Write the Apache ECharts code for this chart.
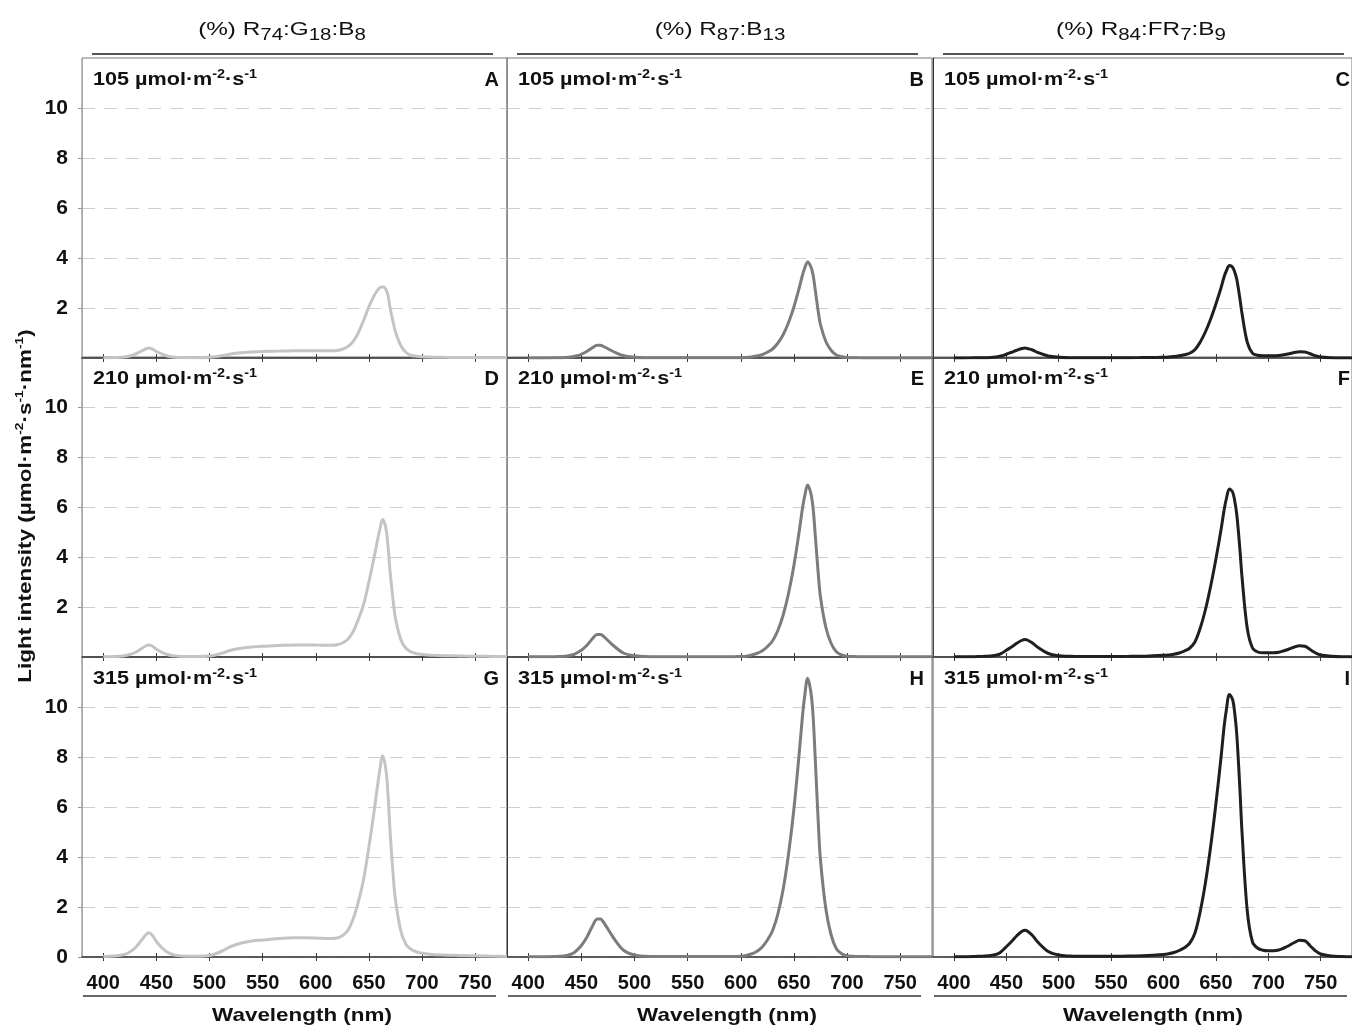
<!DOCTYPE html>
<html>
<head>
<meta charset="utf-8">
<script src="https://cdn.jsdelivr.net/npm/echarts@6/dist/echarts.min.js"></script>
<style>
html, body { margin: 0; padding: 0; background: #fff; }
#main { width: 1352px; height: 1028px; }
</style>
</head>
<body>
<div id="main"></div>
<script>
// wavelength grid (nm) shared by all nine spectra
var wavelength = [
    400, 410, 420, 425, 430, 435, 440, 443, 446, 450,
    455, 460, 465, 468, 470, 475, 480, 490, 500, 510,
    520, 530, 540, 550, 560, 570, 580, 590, 600, 605,
    610, 615, 620, 625, 630, 635, 640, 645, 650, 655,
    658, 660, 663, 666, 668, 670, 673, 675, 680, 685,
    690, 695, 700, 705, 710, 715, 720, 725, 730, 735,
    740, 745, 750, 760, 770, 780
];

// R74:G18:B8
var a105 = [
    0.01, 0.02, 0.04, 0.08, 0.15, 0.26, 0.36, 0.40, 0.36, 0.26,
    0.16, 0.08, 0.04, 0.03, 0.02, 0.02, 0.01, 0.01, 0.03, 0.08,
    0.16, 0.21, 0.24, 0.26, 0.27, 0.28, 0.29, 0.29, 0.29, 0.29,
    0.29, 0.29, 0.30, 0.35, 0.45, 0.65, 1.00, 1.50, 2.05, 2.50,
    2.70, 2.80, 2.85, 2.75, 2.50, 2.00, 1.40, 1.05, 0.50, 0.22,
    0.10, 0.07, 0.05, 0.04, 0.03, 0.03, 0.03, 0.02, 0.02, 0.02,
    0.02, 0.02, 0.02, 0.01, 0.01, 0.01
];
var a210 = [
    0.01, 0.02, 0.05, 0.10, 0.18, 0.31, 0.44, 0.48, 0.44, 0.31,
    0.19, 0.10, 0.05, 0.04, 0.03, 0.02, 0.02, 0.02, 0.04, 0.13,
    0.27, 0.35, 0.40, 0.43, 0.45, 0.47, 0.48, 0.48, 0.48, 0.47,
    0.47, 0.47, 0.49, 0.56, 0.70, 1.00, 1.50, 2.10, 3.00, 4.00,
    4.65, 5.05, 5.50, 5.15, 4.45, 3.40, 2.20, 1.55, 0.70, 0.34,
    0.20, 0.13, 0.10, 0.08, 0.07, 0.06, 0.05, 0.05, 0.05, 0.04,
    0.04, 0.03, 0.03, 0.03, 0.02, 0.01
];
var a315 = [
    0.02, 0.04, 0.10, 0.20, 0.36, 0.62, 0.88, 0.97, 0.88, 0.62,
    0.38, 0.20, 0.10, 0.07, 0.06, 0.04, 0.03, 0.03, 0.06, 0.20,
    0.42, 0.56, 0.64, 0.68, 0.72, 0.75, 0.77, 0.77, 0.76, 0.75,
    0.74, 0.74, 0.76, 0.85, 1.05, 1.50, 2.20, 3.10, 4.40, 5.85,
    6.80, 7.40, 8.05, 7.50, 6.50, 5.00, 3.20, 2.30, 1.05, 0.50,
    0.30, 0.20, 0.15, 0.12, 0.10, 0.09, 0.08, 0.07, 0.07, 0.06,
    0.06, 0.05, 0.05, 0.04, 0.03, 0.02
];

// R87:B13
var b105 = [
    0.00, 0.00, 0.00, 0.01, 0.01, 0.02, 0.04, 0.06, 0.09, 0.15,
    0.26, 0.40, 0.51, 0.51, 0.48, 0.37, 0.26, 0.09, 0.03, 0.01,
    0.01, 0.01, 0.01, 0.01, 0.01, 0.01, 0.01, 0.01, 0.01, 0.02,
    0.04, 0.08, 0.13, 0.23, 0.36, 0.60, 0.94, 1.42, 2.04, 2.80,
    3.30, 3.57, 3.84, 3.65, 3.34, 2.76, 1.84, 1.34, 0.67, 0.31,
    0.12, 0.05, 0.02, 0.01, 0.01, 0.00, 0.00, 0.00, 0.00, 0.00,
    0.00, 0.00, 0.00, 0.00, 0.00, 0.00
];
var b210 = [
    0.01, 0.01, 0.01, 0.01, 0.02, 0.03, 0.07, 0.10, 0.17, 0.27,
    0.46, 0.71, 0.90, 0.90, 0.86, 0.66, 0.46, 0.15, 0.05, 0.02,
    0.01, 0.01, 0.01, 0.01, 0.01, 0.01, 0.01, 0.01, 0.02, 0.03,
    0.08, 0.14, 0.24, 0.41, 0.65, 1.07, 1.69, 2.55, 3.65, 5.02,
    5.92, 6.40, 6.88, 6.54, 5.99, 4.95, 3.30, 2.41, 1.20, 0.55,
    0.21, 0.08, 0.03, 0.02, 0.01, 0.01, 0.01, 0.01, 0.01, 0.01,
    0.01, 0.01, 0.01, 0.01, 0.01, 0.01
];
var b315 = [
    0.01, 0.01, 0.01, 0.02, 0.03, 0.05, 0.11, 0.17, 0.28, 0.46,
    0.78, 1.20, 1.52, 1.52, 1.44, 1.12, 0.78, 0.26, 0.08, 0.03,
    0.02, 0.02, 0.02, 0.02, 0.02, 0.02, 0.02, 0.02, 0.03, 0.06,
    0.12, 0.22, 0.39, 0.67, 1.06, 1.73, 2.73, 4.13, 5.91, 8.14,
    9.59, 10.37, 11.15, 10.59, 9.70, 8.03, 5.35, 3.90, 1.95, 0.89,
    0.33, 0.13, 0.05, 0.03, 0.02, 0.02, 0.02, 0.01, 0.01, 0.01,
    0.01, 0.01, 0.01, 0.01, 0.01, 0.01
];

// R84:FR7:B9
var c105 = [
    0.00, 0.00, 0.01, 0.01, 0.01, 0.02, 0.04, 0.06, 0.09, 0.15,
    0.23, 0.31, 0.38, 0.40, 0.38, 0.32, 0.22, 0.08, 0.03, 0.01,
    0.01, 0.01, 0.01, 0.01, 0.01, 0.01, 0.02, 0.02, 0.03, 0.04,
    0.06, 0.09, 0.13, 0.19, 0.33, 0.63, 1.04, 1.55, 2.15, 2.81,
    3.26, 3.48, 3.70, 3.63, 3.44, 3.15, 2.37, 1.78, 0.63, 0.19,
    0.11, 0.09, 0.09, 0.09, 0.10, 0.13, 0.17, 0.22, 0.25, 0.24,
    0.17, 0.09, 0.04, 0.01, 0.00, 0.00
];
var c210 = [
    0.01, 0.01, 0.01, 0.02, 0.03, 0.04, 0.07, 0.10, 0.16, 0.27,
    0.40, 0.55, 0.67, 0.70, 0.68, 0.56, 0.39, 0.14, 0.05, 0.03,
    0.02, 0.02, 0.02, 0.02, 0.02, 0.03, 0.03, 0.05, 0.07, 0.08,
    0.11, 0.16, 0.24, 0.35, 0.60, 1.14, 1.88, 2.82, 3.90, 5.10,
    5.90, 6.32, 6.72, 6.60, 6.25, 5.70, 4.30, 3.20, 1.15, 0.36,
    0.20, 0.17, 0.17, 0.17, 0.19, 0.25, 0.32, 0.40, 0.45, 0.43,
    0.30, 0.17, 0.08, 0.03, 0.01, 0.01
];
var c315 = [
    0.01, 0.01, 0.02, 0.03, 0.04, 0.06, 0.10, 0.15, 0.25, 0.41,
    0.62, 0.85, 1.03, 1.07, 1.04, 0.86, 0.60, 0.22, 0.08, 0.04,
    0.03, 0.03, 0.03, 0.03, 0.03, 0.04, 0.05, 0.07, 0.10, 0.13,
    0.18, 0.26, 0.37, 0.55, 0.95, 1.80, 2.95, 4.40, 6.10, 8.00,
    9.25, 9.87, 10.50, 10.30, 9.77, 8.90, 6.70, 5.00, 1.85, 0.60,
    0.35, 0.27, 0.25, 0.25, 0.28, 0.36, 0.46, 0.58, 0.67, 0.65,
    0.45, 0.25, 0.12, 0.04, 0.02, 0.01
];

var spectra = [[a105, b105, c105], [a210, b210, c210], [a315, b315, c315]];
var irradiance = ['105', '210', '315'];
var panelLetters = ['A', 'B', 'C', 'D', 'E', 'F', 'G', 'H', 'I'];
var colHeaders = [
    '{n|(%) R}{s|74}{n|:G}{s|18}{n|:B}{s|8}',
    '{n|(%) R}{s|87}{n|:B}{s|13}',
    '{n|(%) R}{s|84}{n|:FR}{s|7}{n|:B}{s|9}'
];
var xTicks = [400, 450, 500, 550, 600, 650, 700, 750];
var yTicksTop = [2, 4, 6, 8, 10];
var yTicksBottom = [0, 2, 4, 6, 8, 10];

var FONT = '"Liberation Sans", Arial, Helvetica, sans-serif';
var colLeft = [82, 507, 933], panelW = 425;
var rowTop = [58, 357, 657], panelH = 300;
var lineColors = ['#c4c4c4', '#7c7c7c', '#1f1f1f'];
var sideColors = [
    ['#aaaaaa', '#8c8c8c', '#333333'],
    ['#aaaaaa', '#8c8c8c', '#444444'],
    ['#aaaaaa', '#333333', '#aaaaaa']
];

var grids = [], xAxes = [], yAxes = [], series = [], graphics = [];

for (var r = 0; r < 3; r++) {
    for (var c = 0; c < 3; c++) {
        var g = r * 3 + c;
        var yVals = r === 2 ? yTicksBottom : yTicksTop;
        grids.push({
            left: colLeft[c], top: rowTop[r], width: panelW, height: panelH,
            show: true, borderColor: '#777', borderWidth: 1
        });
        xAxes.push({
            gridIndex: g, type: 'value', position: 'bottom', min: 380, max: 780, z: 3,
            axisLine: { show: true, onZero: false, lineStyle: { color: '#3a3a3a', width: 1.5 } },
            axisTick: { show: true, inside: false, length: 4, customValues: xTicks, lineStyle: { color: '#3a3a3a' } },
            axisLabel: {
                show: r === 2, customValues: xTicks, margin: 16,
                fontSize: 20, fontWeight: 'bold', color: '#111', fontFamily: FONT
            },
            splitLine: { show: false }
        });
        xAxes.push({
            gridIndex: g, type: 'value', position: 'bottom', min: 380, max: 780, z: 3,
            axisLine: { show: false },
            axisTick: { show: true, inside: true, length: 4, customValues: xTicks, lineStyle: { color: '#3a3a3a' } },
            axisLabel: { show: false },
            splitLine: { show: false }
        });
        yAxes.push({
            gridIndex: g, type: 'value', min: 0, max: 12, interval: 2,
            axisLine: { show: true, onZero: false, lineStyle: { color: sideColors[r][c], width: 1 } },
            axisTick: { show: c === 0, length: 4, customValues: yVals, lineStyle: { color: '#999' } },
            axisLabel: {
                show: c === 0, customValues: yVals, margin: 14,
                fontSize: 21, fontWeight: 'bold', color: '#111', fontFamily: FONT
            },
            splitLine: { show: true, lineStyle: { color: '#cfcfcf', type: [13, 9], width: 1 } }
        });
        var vals = spectra[r][c];
        series.push({
            type: 'line',
            xAxisIndex: 2 * g,
            yAxisIndex: g,
            data: wavelength.map(function (w, i) { return [w, vals[i]]; }),
            showSymbol: false,
            smooth: 0.35,
            silent: true,
            lineStyle: { color: lineColors[c], width: 3 },
            itemStyle: { color: lineColors[c] }
        });

        // panel irradiance label and letter
        graphics.push({
            type: 'text', x: colLeft[c] + 11, y: rowTop[r] + 22, scaleX: 1.2,
            style: {
                text: '{n|' + irradiance[r] + ' µmol·m}{s|-2}{n|·s}{s|-1}',
                align: 'left', verticalAlign: 'middle',
                rich: {
                    n: { fontSize: 18, fontWeight: 'bold', fontFamily: FONT, fill: '#111', lineHeight: 23, verticalAlign: 'middle' },
                    s: { fontSize: 12, fontWeight: 'bold', fontFamily: FONT, fill: '#111', lineHeight: 12, verticalAlign: 'top' }
                }
            }
        });
        graphics.push({
            type: 'text', x: colLeft[c] + 417, y: rowTop[r] + 22,
            style: {
                text: panelLetters[g], align: 'right', verticalAlign: 'middle',
                fontSize: 20, fontWeight: 'bold', fontFamily: FONT, fill: '#111'
            }
        });
    }
}

for (var k = 0; k < 3; k++) {
    graphics.push({
        type: 'text', x: colLeft[k] + 200 + [0, 13, 8][k], y: 30, scaleX: 1.28,
        style: {
            text: colHeaders[k], align: 'center', verticalAlign: 'middle',
            rich: {
                n: { fontSize: 19, fontFamily: FONT, fill: '#111', lineHeight: 28, verticalAlign: 'middle' },
                s: { fontSize: 16, fontFamily: FONT, fill: '#111', lineHeight: 16, verticalAlign: 'bottom' }
            }
        }
    });
    graphics.push({
        type: 'line',
        shape: { x1: colLeft[k] + 10, y1: 54, x2: colLeft[k] + 411, y2: 54 },
        style: { stroke: '#555', lineWidth: 2 }
    });
    graphics.push({
        type: 'line',
        shape: { x1: colLeft[k] + 1, y1: 996, x2: colLeft[k] + 414, y2: 996 },
        style: { stroke: '#666', lineWidth: 2 }
    });
    graphics.push({
        type: 'text', x: colLeft[k] + 220, y: 1016, scaleX: 1.18,
        style: {
            text: 'Wavelength (nm)', align: 'center', verticalAlign: 'middle',
            fontSize: 19, fontWeight: 'bold', fontFamily: FONT, fill: '#111'
        }
    });
}

graphics.push({
    type: 'text', x: 26, y: 506, rotation: Math.PI / 2, scaleX: 1.25,
    style: {
        text: '{n|Light intensity (µmol·m}{s|-2}{n|·s}{s|-1}{n|·nm}{s|-1}{n|)}',
        align: 'center', verticalAlign: 'middle',
        rich: {
            n: { fontSize: 18, fontWeight: 'bold', fontFamily: FONT, fill: '#111', lineHeight: 24, verticalAlign: 'middle' },
            s: { fontSize: 11, fontWeight: 'bold', fontFamily: FONT, fill: '#111', lineHeight: 11, verticalAlign: 'top' }
        }
    }
});

var myChart = echarts.init(document.getElementById('main'));
myChart.setOption({
    animation: false,
    backgroundColor: '#fff',
    grid: grids,
    xAxis: xAxes,
    yAxis: yAxes,
    series: series,
    graphic: graphics
});
</script>
</body>
</html>
